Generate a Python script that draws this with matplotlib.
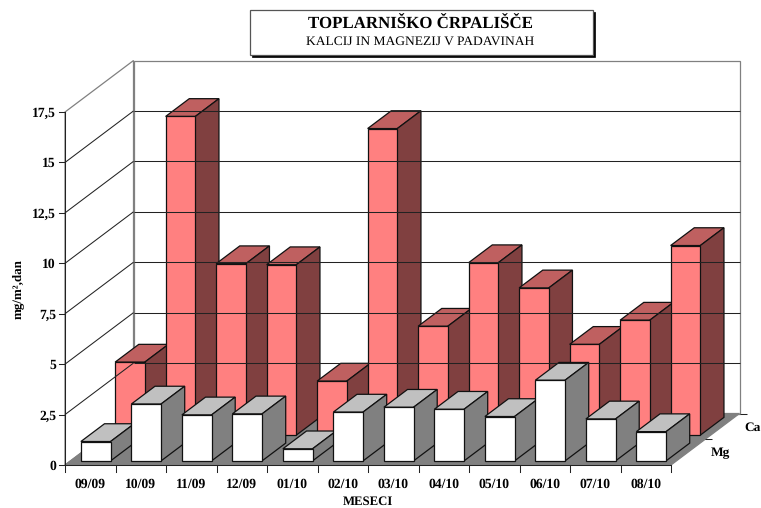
import matplotlib
matplotlib.use("Agg")
import matplotlib.pyplot as plt
from matplotlib.patches import Rectangle

months = ['09/09', '10/09', '11/09', '12/09', '01/10', '02/10',
          '03/10', '04/10', '05/10', '06/10', '07/10', '08/10']
ca = [3.62, 15.8, 8.5, 8.45, 2.68, 15.2, 5.4, 8.55, 7.3, 4.5, 5.7, 9.4]
mg = [0.96, 2.82, 2.28, 2.33, 0.6, 2.42, 2.66, 2.56, 2.2, 4.0, 2.08, 1.45]
yticks = [0, 2.5, 5, 7.5, 10, 12.5, 15, 17.5]
ylabels = ['0', '2,5', '5', '7,5', '10', '12,5', '15', '17,5']

W, H = 761, 508
PX_CAT = 50.5    # pixels per category
PX_VAL = 20.17   # pixels per unit
X0, Y0 = 65, 465
SHEAR_X = 68.5 / PX_CAT
SHEAR_Y = 51.5 / PX_VAL
YMAX = 17.5
NCAT = len(months)

plt.rcParams['font.family'] = ['Liberation Serif', 'DejaVu Serif']
plt.rcParams['text.hinting'] = 'no_hinting'

fig = plt.figure(figsize=(W / 100, H / 100), dpi=100)
ax = fig.add_axes([0, 0, 1, 1])
ax.set_xlim(-X0 / PX_CAT, (W - X0) / PX_CAT)
ax.set_ylim((Y0 - H) / PX_VAL, Y0 / PX_VAL)
ax.axis('off')


# oblique projection: x = category, v = value, d = depth 0..1
def proj(x, v, d):
    return x + d * SHEAR_X, v + d * SHEAR_Y


def poly(pts, fc, ec='#111111', lw=0.9):
    xs, ys = zip(*[proj(*p) for p in pts])
    ax.fill(xs, ys, facecolor=fc, edgecolor=ec, linewidth=lw, joinstyle='miter')


def line(p, q, color='#222222', lw=0.75):
    a, b = proj(*p), proj(*q)
    ax.plot([a[0], b[0]], [a[1], b[1]], color=color, lw=lw, solid_capstyle='butt')


def bar3d(i, val, d0, d1, front, top, side):
    x0, x1 = i + 0.206, i + 0.794
    poly([(x0, val, d0), (x1, val, d0), (x1, val, d1), (x0, val, d1)], top)
    poly([(x1, 0, d0), (x1, 0, d1), (x1, val, d1), (x1, val, d0)], side)
    poly([(x0, 0, d0), (x1, 0, d0), (x1, val, d0), (x0, val, d0)], front)


# walls and floor
poly([(0, 0, 1), (NCAT, 0, 1), (NCAT, YMAX, 1), (0, YMAX, 1)], 'white', ec='#808080')
poly([(0, 0, 0), (0, 0, 1), (0, YMAX, 1), (0, YMAX, 0)], 'white', ec='#808080')
poly([(0, 0, 0), (NCAT, 0, 0), (NCAT, 0, 1), (0, 0, 1)], '#808080', ec='#808080')

# gridlines on both walls
for v in yticks[1:-1]:
    line((0, v, 0), (0, v, 1))
    line((0, v, 1), (NCAT, v, 1))
line((0, 0, 0), (0, YMAX, 0))
line((0, 0, 0), (NCAT, 0, 0))

# back row first, left to right
for i, v in enumerate(ca):
    bar3d(i, v, 0.58, 0.925, '#FF8080', '#BF6060', '#804040')
for i, v in enumerate(mg):
    bar3d(i, v, 0.08, 0.425, 'white', '#C0C0C0', '#808080')

# ticks and labels
tick_x = 6.5 / PX_CAT
tick_y = 6.5 / PX_VAL
for v, s in zip(yticks, ylabels):
    ax.plot([-tick_x, 0], [v, v], color='#222222', lw=0.75)
    ax.text(-9 / PX_CAT, v - 1.5 / PX_VAL, s, ha='right', va='center', fontsize=9.8, fontweight='bold')
for i in range(NCAT + 1):
    ax.plot([i, i], [-tick_y, 0], color='#222222', lw=0.75)
for i, s in enumerate(months):
    ax.text(i + 0.5, -19 / PX_VAL, s, ha='center', va='center', fontsize=9.8, fontweight='bold')

for d, s in zip([0.5, 1.0], ['Mg', 'Ca']):
    line((NCAT, 0, d), (NCAT + 0.14, 0, d))
    x, y = proj(NCAT + 0.1, -14 / PX_VAL, d)
    ax.text(x, y, s, ha='left', va='center', fontsize=9.6, fontweight='bold')

ax.text(NCAT / 2, -36.5 / PX_VAL, 'MESECI', ha='center', va='center', fontsize=9.2, fontweight='bold')
ax.text(-47 / PX_CAT, 176 / PX_VAL, 'mg/m²,dan', rotation=90, ha='center', va='center',
        fontsize=9.4, fontweight='bold')

# title box with shadow
fig.add_artist(Rectangle((252 / W, 1 - 57 / H), 343 / W, 45 / H, transform=fig.transFigure,
                         facecolor='black', edgecolor='black', lw=0.5))
fig.add_artist(Rectangle((250 / W, 1 - 55 / H), 343 / W, 45 / H, transform=fig.transFigure,
                         facecolor='white', edgecolor='#555555', lw=0.9))
fig.text(420 / W, 1 - 24.5 / H, 'TOPLARNIŠKO ČRPALIŠČE', ha='center', va='center',
         fontsize=12.2, fontweight='bold')
fig.text(420.5 / W, 1 - 42 / H, 'KALCIJ IN MAGNEZIJ V PADAVINAH', ha='center', va='center',
         fontsize=9.7)

fig.savefig('out.png', dpi=100)
